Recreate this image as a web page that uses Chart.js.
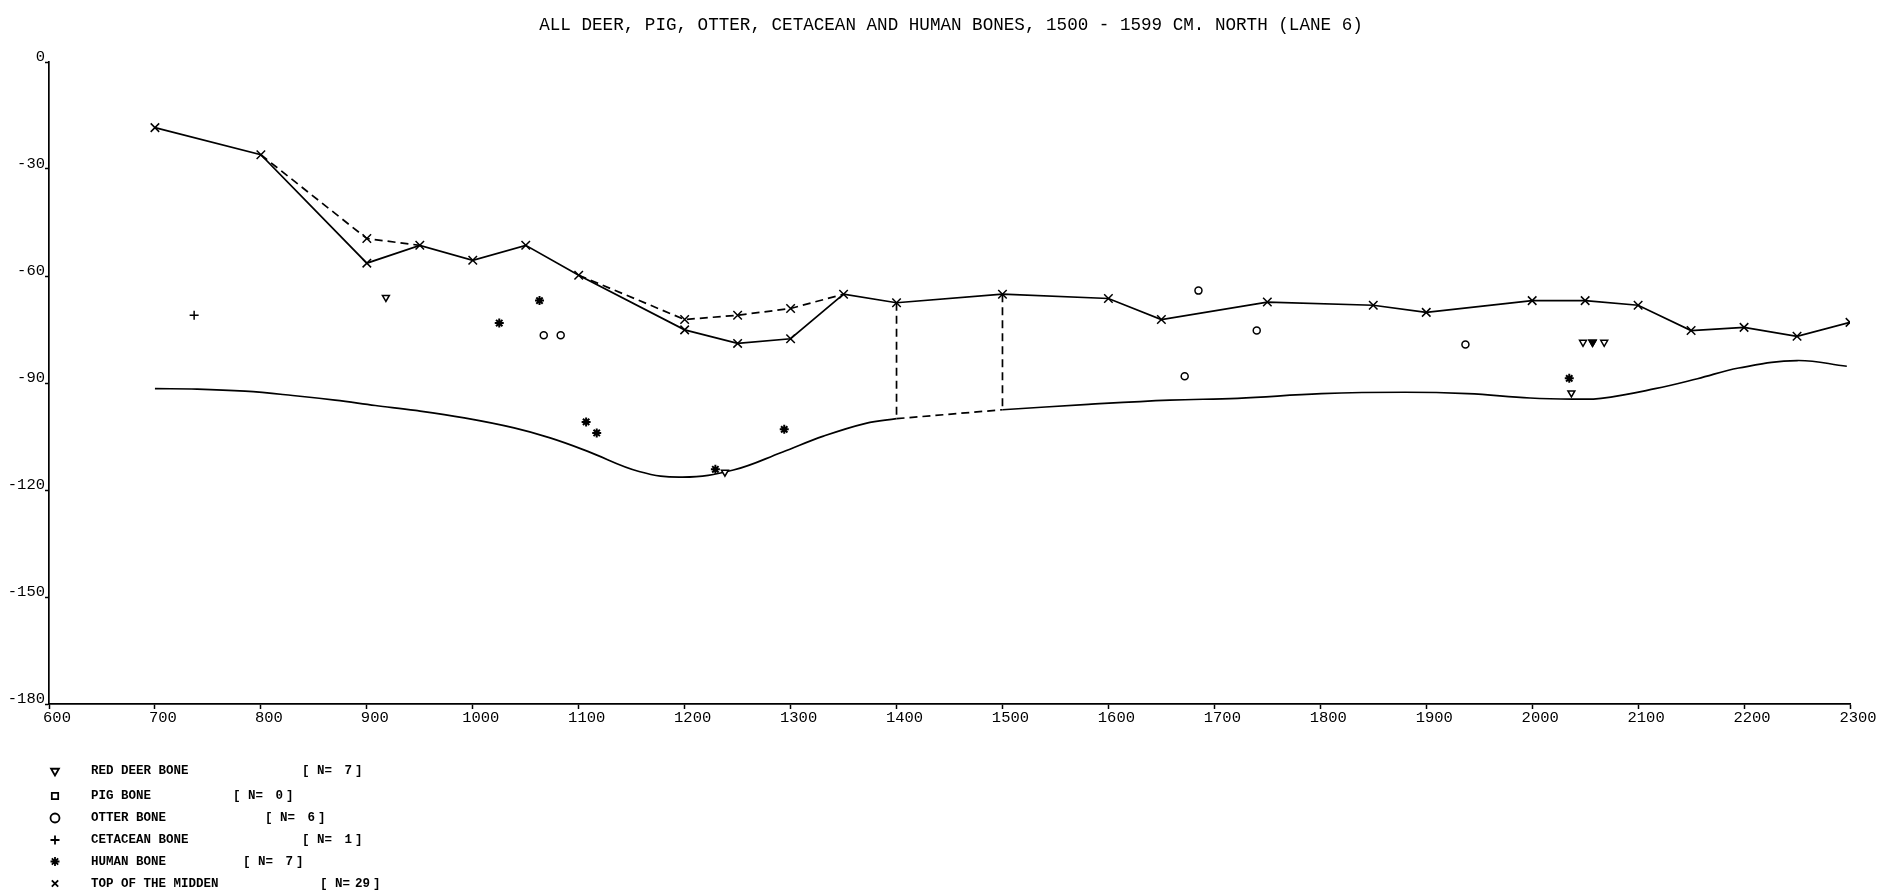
<!DOCTYPE html>
<html>
<head>
<meta charset="utf-8">
<script src="https://cdn.jsdelivr.net/npm/chart.js@4/dist/chart.umd.min.js"></script>
<style>
  html, body { margin: 0; padding: 0; background: #fff; overflow: hidden; }
  canvas { display: block; }
</style>
</head>
<body>
<canvas id="section" width="1895" height="896"></canvas>
<script>
// Lane 6, 1500 - 1599 cm north: horizontal position (cm) and depth (cm).

// Top of the midden, surveyed points along the solid profile
const middenTop = [
  [700, -18.4], [800, -26.0], [900, -56.4], [950, -51.4], [1000, -55.6],
  [1050, -51.4], [1100, -59.8], [1200, -75.1], [1250, -78.9], [1300, -77.6],
  [1350, -65.1], [1400, -67.5], [1500, -65.1], [1600, -66.3], [1650, -72.2],
  [1750, -67.3], [1850, -68.2], [1900, -70.2], [2000, -66.9], [2050, -66.9],
  [2100, -68.2], [2150, -75.3], [2200, -74.4], [2250, -76.9], [2300, -73.0]
];
// Alternative (dashed) readings of the midden top
const middenAltWest = [[800, -26.0], [900, -49.5], [950, -51.4]];
const middenAltEast = [[1100, -59.8], [1200, -72.2], [1250, -71.0], [1300, -69.1], [1350, -65.1]];
const middenAltPoints = [[900, -49.5], [1200, -72.2], [1250, -71.0], [1300, -69.1]];

// Base of the midden deposit
const middenBaseWest = [
  [700, -91.6], [740, -91.7], [785, -92.3], [830, -93.5], [870, -94.8],
  [908, -96.3], [946, -97.7], [992, -99.8], [1039, -102.6], [1073, -105.4],
  [1108, -109.1], [1157, -114.8], [1198, -116.4], [1246, -114.4], [1292, -109.4],
  [1331, -104.9], [1371, -101.3], [1400, -100.0]
];
const middenBaseEast = [
  [1500, -97.5], [1581, -96.0], [1658, -94.8], [1722, -94.3], [1801, -93.0],
  [1880, -92.6], [1939, -93.0], [1998, -94.2], [2038, -94.5], [2065, -94.3],
  [2116, -91.6], [2156, -88.8], [2195, -85.8], [2250, -83.7], [2297, -85.3]
];

// Bone finds
const redDeerBone = [
  [918, -66.0], [1238, -115.0], [2037, -92.8], [2048, -78.6],
  [2057, -78.6], [2057, -78.6], [2068, -78.6]
];
const pigBone = [];
const otterBone = [[1067, -76.6], [1083, -76.6], [1672, -88.1], [1685, -64.1], [1740, -75.3], [1937, -79.2]];
const cetaceanBone = [[737, -71.0]];
const humanBone = [
  [1025, -73.2], [1063, -66.9], [1107, -100.9], [1117, -104.0],
  [1229, -114.2], [1294, -103.0], [2035, -88.7]
];

// Axis ticks
const xTicks = [600, 700, 800, 900, 1000, 1100, 1200, 1300, 1400, 1500, 1600, 1700, 1800, 1900, 2000, 2100, 2200, 2300];
const yTicks = [0, -30, -60, -90, -120, -150, -180];

const TITLE = 'ALL DEER, PIG, OTTER, CETACEAN AND HUMAN BONES, 1500 - 1599 CM. NORTH (LANE 6)';

const pts = arr => arr.map(([x, y]) => ({ x, y }));
const depthAt = (arr, x) => arr.find(p => p[0] === x)[1];

// Dashed links between the top and the base where the section is interpolated
const joinX = [1400, 1500];
const joins = [];
joinX.forEach((x, i) => {
  if (i > 0) joins.push({ x: x - 1, y: null });
  joins.push({ x, y: depthAt(middenTop, x) });
  joins.push({ x, y: depthAt(middenBaseWest.concat(middenBaseEast), x) });
});
const baseGap = [
  { x: 1400, y: depthAt(middenBaseWest, 1400) },
  { x: 1500, y: depthAt(middenBaseEast, 1500) }
];

const INK = '#000';
const FONT = "'Liberation Mono', 'DejaVu Sans Mono', monospace";

const lineStyle = (data, dash) => ({
  type: 'line', data, borderColor: INK, borderWidth: 1.7, borderDash: dash || [],
  pointRadius: 0, fill: false, spanGaps: false, order: 2
});

const markerStyle = (label, data, style, radius, extra) => Object.assign({
  type: 'scatter', label, data, pointStyle: style, pointRadius: radius,
  borderColor: INK, backgroundColor: '#fff', pointBorderWidth: 1.5, order: 1
}, extra || {});

const baseWestSet = Object.assign(lineStyle(pts(middenBaseWest)), { tension: 0.4 });
const baseEastSet = Object.assign(lineStyle(pts(middenBaseEast)), { tension: 0.4 });

const redDeerSet = markerStyle('RED DEER BONE', pts(redDeerBone), 'triangle', 4, {
  pointRotation: 180,
  // where two finds coincide the symbol prints solid
  pointBackgroundColor: ctx => {
    const p = redDeerBone[ctx.dataIndex];
    if (!p) return '#fff';
    const n = redDeerBone.filter(q => q[0] === p[0] && q[1] === p[1]).length;
    return n > 1 ? INK : '#fff';
  }
});
const pigSet = markerStyle('PIG BONE', pts(pigBone), 'rect', 3.5);
const otterSet = markerStyle('OTTER BONE', pts(otterBone), 'circle', 3.5);
const cetaceanSet = markerStyle('CETACEAN BONE', pts(cetaceanBone), 'cross', 4.5);
const humanSet = markerStyle('HUMAN BONE', pts(humanBone), 'star', 4.5, { pointBorderWidth: 2 });
const middenSet = markerStyle('TOP OF THE MIDDEN', pts(middenTop.concat(middenAltPoints)), 'crossRot', 6);

const legendSets = [redDeerSet, pigSet, otterSet, cetaceanSet, humanSet, middenSet];

// Heading printed above the section
const headingPlugin = {
  id: 'heading',
  afterDraw(chart, args, opts) {
    const ctx = chart.ctx;
    ctx.save();
    ctx.fillStyle = INK;
    ctx.font = opts.size + 'px ' + FONT;
    ctx.textAlign = 'center';
    ctx.textBaseline = 'middle';
    ctx.fillText(opts.text, opts.x, opts.y);
    ctx.restore();
  }
};

// Symbol key with find counts, drawn under the section
const keyPlugin = {
  id: 'findKey',
  afterDraw(chart, args, opts) {
    const ctx = chart.ctx;
    ctx.save();
    ctx.fillStyle = INK;
    ctx.strokeStyle = INK;
    ctx.textBaseline = 'middle';
    ctx.font = 'bold ' + opts.size + 'px ' + FONT;
    legendSets.forEach((ds, i) => {
      const y = opts.rows[i];
      const sx = opts.symbolX;
      const style = {
        pointStyle: ds.pointStyle,
        radius: opts.symbolRadius,
        rotation: ds.pointRotation || 0,
        borderWidth: 1.8
      };
      ctx.fillStyle = '#fff';
      ctx.lineWidth = 1.8;
      if (Chart.helpers && Chart.helpers.drawPoint) {
        Chart.helpers.drawPoint(ctx, style, sx, y);
      }
      ctx.fillStyle = INK;
      ctx.textAlign = 'left';
      ctx.fillText(ds.label, opts.textX, y);
      const bx = opts.bracketX[i];
      ctx.fillText('[ N=', bx, y);
      ctx.textAlign = 'right';
      ctx.fillText(String(ds.data.length), bx + opts.countEnd, y);
      ctx.textAlign = 'left';
      ctx.fillText(']', bx + opts.countEnd + 3, y);
    });
    ctx.restore();
  }
};

new Chart(document.getElementById('section'), {
  type: 'scatter',
  data: {
    datasets: [
      baseWestSet,
      lineStyle(baseGap, [8, 5]),
      baseEastSet,
      lineStyle(joins, [8, 5]),
      lineStyle(pts(middenTop)),
      lineStyle(pts(middenAltWest), [8, 5]),
      lineStyle(pts(middenAltEast), [8, 5]),
      middenSet, redDeerSet, pigSet, otterSet, cetaceanSet, humanSet
    ]
  },
  options: {
    responsive: false,
    animation: false,
    devicePixelRatio: 1,
    events: [],
    layout: { autoPadding: false, padding: { left: 0, right: 45, top: 62, bottom: 162 } },
    plugins: {
      legend: { display: false },
      tooltip: { enabled: false },
      title: { display: false },
      heading: { text: TITLE, x: 951, y: 25, size: 17.6 },
      findKey: {
        symbolX: 55,
        symbolRadius: 4.5,
        textX: 91,
        size: 12.5,
        countEnd: 50,
        rows: [771, 796, 818, 840, 861.5, 883.5],
        bracketX: [302, 233, 265, 302, 243, 320]
      }
    },
    scales: {
      x: {
        type: 'linear',
        min: xTicks[0],
        max: xTicks[xTicks.length - 1],
        afterBuildTicks: s => { s.ticks = xTicks.map(v => ({ value: v })); },
        afterFit: s => { s.height = 30; },
        grid: { drawOnChartArea: false, drawTicks: true, tickLength: 5, tickColor: INK, tickWidth: 1.5 },
        border: { display: true, color: INK, width: 1.7 },
        ticks: {
          color: INK, padding: 0, labelOffset: 8, maxRotation: 0, autoSkip: false,
          font: { family: FONT, size: 15.5 },
          callback: v => String(v)
        }
      },
      y: {
        type: 'linear',
        min: yTicks[yTicks.length - 1],
        max: yTicks[0],
        afterBuildTicks: s => { s.ticks = yTicks.map(v => ({ value: v })); },
        afterFit: s => { s.width = 49; },
        grid: { drawOnChartArea: false, drawTicks: true, tickLength: 4, tickColor: INK, tickWidth: 1.5 },
        border: { display: true, color: INK, width: 1.7 },
        ticks: {
          color: INK, padding: 0, labelOffset: -5, autoSkip: false,
          font: { family: FONT, size: 15.5 },
          callback: v => String(v)
        }
      }
    }
  },
  plugins: [headingPlugin, keyPlugin]
});
</script>
</body>
</html>
